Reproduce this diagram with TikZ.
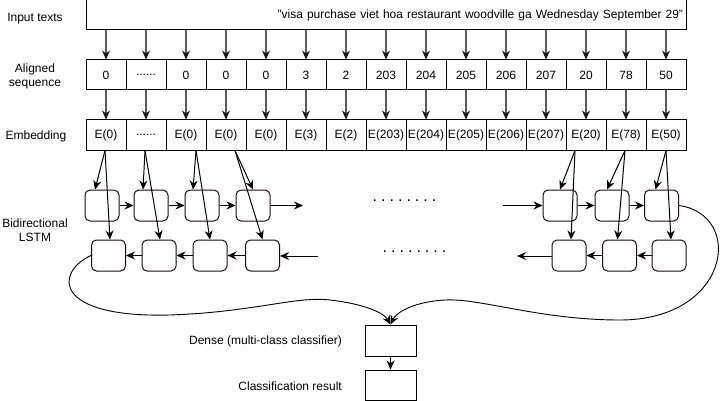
\documentclass[tikz,border=0pt]{standalone}
\usepackage{fontspec}
\setmainfont{Liberation Sans}
\usetikzlibrary{arrows.meta}
\newcommand\dotrow{.\kern4.0pt.\kern4.0pt.\kern4.0pt.\kern4.0pt.\kern4.0pt.\kern4.0pt.\kern4.0pt.}
\newcommand\sixdot{......}
\begin{document}
\begin{tikzpicture}[x=1pt,y=-1pt,
  font=\fontsize{12}{14}\selectfont,
  cell/.style={draw=black,line width=1pt,minimum width=40pt,minimum height=30pt,inner sep=0pt},
  lstm/.style={draw={rgb,255:red,40;green,8;blue,8},line width=1pt,rounded corners=5pt,minimum width=34pt,minimum height=31pt,inner sep=0pt},
  plainbox/.style={draw=black,line width=1pt,minimum width=51pt,minimum height=31pt,inner sep=0pt},
  lbl/.style={align=center,inner sep=0pt},
  grayarrow/.style={draw=black!65,line width=1.1pt,-{Stealth[length=9pt,width=8pt,color=black!90]}},
  arr/.style={draw=black,line width=1pt,-{Stealth[length=9pt,width=8pt]}},
  curve/.style={draw=black,line width=0.9pt,-{Stealth[length=9pt,width=8pt]}}]
\useasboundingbox (0,0) rectangle (722,401);
% labels
\node[lbl] (l1) at (35,19) {Input texts};
\node[lbl] (l2) at (35,76) {Aligned\\sequence};
\node[lbl] (l3) at (36,136) {Embedding};
\node[lbl] (l4) at (35,230) {Bidirectional\\LSTM};
\node[lbl,anchor=east] (l5) at (342,341) {Dense (multi-class classifier)};
\node[lbl,anchor=east] (l6) at (342,386) {Classification result};
% input box
\node[draw=black,line width=1pt,minimum width=600pt,minimum height=30pt,inner sep=0pt,text width=594pt,align=right] (inp) at (386,15) {\char34 visa purchase viet hoa restaurant woodville ga Wednesday September 29\char34};
% aligned sequence
\foreach \v [count=\i] in {0,\sixdot,0,0,0,3,2,203,204,205,206,207,20,78,50}
  \node[cell] (a\i) at ({66+40*\i},75) {\v};
% embedding
\foreach \v [count=\i] in {E(0),\sixdot,E(0),E(0),E(0),E(3),E(2),E(203),E(204),E(205),E(206),E(207),E(20),E(78),E(50)}
  \node[cell] (e\i) at ({66+40*\i},135) {\v};
\foreach \i in {1,...,15} {
  \draw[grayarrow] (inp.south -| a\i) -- (a\i.north);
  \draw[grayarrow] (a\i.south) -- (e\i.north);
}
% LSTM forward
\node[lstm] (f1) at (102,205.5) {};
\node[lstm] (f2) at (151,205.5) {};
\node[lstm] (f3) at (202,205.5) {};
\node[lstm] (f4) at (253,205.5) {};
\node[lstm] (f5) at (560,205.5) {};
\node[lstm] (f6) at (612,205.5) {};
\node[lstm] (f7) at (661.5,205.5) {};
% LSTM backward
\node[lstm] (b1) at (108.5,255.5) {};
\node[lstm] (b2) at (159,255.5) {};
\node[lstm] (b3) at (210,255.5) {};
\node[lstm] (b4) at (262.5,255.5) {};
\node[lstm] (b5) at (569,255.5) {};
\node[lstm] (b6) at (619.5,255.5) {};
\node[lstm] (b7) at (669,255.5) {};
% dots
\node[inner sep=0pt,font=\fontsize{16}{16}\selectfont] (d1) at (404.5,201) {\dotrow};
\node[inner sep=0pt,font=\fontsize{16}{16}\selectfont] (d2) at (414.5,252) {\dotrow};
% free ends
\coordinate (fo) at (303,205.5);
\coordinate (fi) at (503,205.5);
\coordinate (bi) at (318,256);
\coordinate (bo) at (517,256);
% forward chain
\draw[arr] (f1) -- (f2);
\draw[arr] (f2) -- (f3);
\draw[arr] (f3) -- (f4);
\draw[arr] (f4.east) -- (fo);
\draw[arr] (fi) -- (f5.west);
\draw[arr] (f5) -- (f6);
\draw[arr] (f6) -- (f7);
% backward chain
\draw[arr] (bi) -- (b4.east |- bi);
\draw[arr] (b4) -- (b3);
\draw[arr] (b3) -- (b2);
\draw[arr] (b2) -- (b1);
\draw[arr] (b7) -- (b6);
\draw[arr] (b6) -- (b5);
\draw[arr] (b5.west |- bo) -- (bo);
% embedding to LSTM
\draw[arr] ([xshift=-1pt]e1.south) -- ([xshift=-7pt]f1.north);
\draw[arr] ([xshift=-1pt]e1.south) -- ([xshift=1.5pt]b1.north);
\draw[arr] ([xshift=-1pt]e2.south) -- ([xshift=-8pt]f2.north);
\draw[arr] ([xshift=-1pt]e2.south) -- ([xshift=1pt]b2.north);
\draw[arr] ([xshift=10pt]e3.south) -- ([xshift=-9pt]f3.north);
\draw[arr] ([xshift=10pt]e3.south) -- (b3.north);
\draw[arr] ([xshift=9pt]e4.south) -- (f4.north);
\draw[arr] ([xshift=9pt]e4.south) -- (b4.north);
\draw[arr] ([xshift=-11pt]e13.south) -- (f5.north);
\draw[arr] ([xshift=-11pt]e13.south) -- ([xshift=2pt]b5.north);
\draw[arr] ([xshift=-1pt]e14.south) -- ([xshift=-5pt]f6.north);
\draw[arr] ([xshift=-1pt]e14.south) -- ([xshift=-2pt]b6.north);
\draw[arr] (e15.south) -- ([xshift=-6pt]f7.north);
\draw[arr] (e15.south) -- ([xshift=2pt]b7.north);
% dense and result
\node[plainbox] (dense) at (390.5,340.5) {};
\node[plainbox,minimum height=30pt] (res) at (390.5,385) {};
\draw[arr] (dense) -- (res);
% curves
\draw[curve] (b1.west) .. controls (55,272) and (52,318) .. (170,315)
  .. controls (255,312) and (295,296) .. (330,300)
  .. controls (365,304) and (384,313) .. (dense.north);
\draw[curve] (f7.east) .. controls (745,215) and (730,320) .. (620,320)
  .. controls (540,320) and (480,298) .. (445,300)
  .. controls (412,302) and (396,313) .. (dense.north);
\end{tikzpicture}
\end{document}
